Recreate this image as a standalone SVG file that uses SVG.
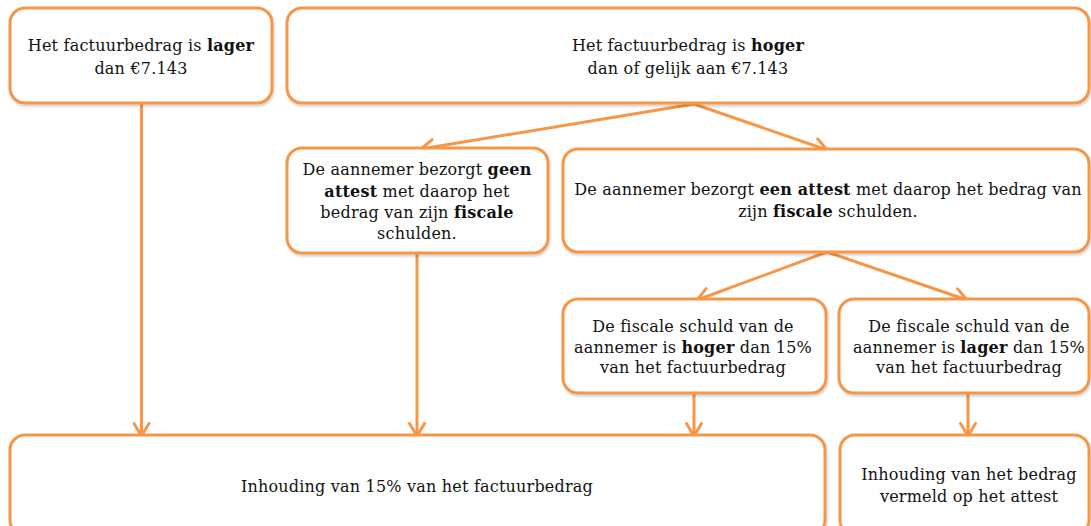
<svg xmlns="http://www.w3.org/2000/svg" width="1091" height="526" viewBox="0 0 1091 526">
<style>
.box{fill:#ffffff;stroke:#F79646;stroke-width:3;filter:url(#sh)}
.t{font-family:'DejaVu Serif','Liberation Serif',serif;font-size:16px;fill:#111;text-anchor:middle;letter-spacing:0.2px}
.b{font-weight:bold}
.c{fill:none;stroke:#F79646;stroke-width:3;marker-end:url(#ah)}
</style>
<defs>
<filter id="sh" x="-5%" y="-5%" width="110%" height="120%">
<feDropShadow dx="1" dy="2" stdDeviation="1.2" flood-color="#000" flood-opacity="0.18"/>
</filter>
<marker id="ah" viewBox="0 0 16 18" refX="14" refY="9" markerWidth="16" markerHeight="18" markerUnits="userSpaceOnUse" orient="auto">
<path d="M1.5,1.5 L14,9 L1.5,16.5" fill="none" stroke="#F79646" stroke-width="3" stroke-linecap="round" stroke-linejoin="round"/>
</marker>
</defs>
<rect width="1091" height="526" fill="#ffffff"/>
<g id="connectors">
<line class="c" x1="141.5" y1="104" x2="141.5" y2="436"/>
<line class="c" x1="417" y1="254" x2="417" y2="436"/>
<line class="c" x1="694" y1="394" x2="694" y2="436"/>
<line class="c" x1="968" y1="394" x2="968" y2="436"/>
<line class="c" x1="694" y1="104" x2="421" y2="149"/>
<line class="c" x1="694" y1="104" x2="827" y2="150"/>
<line class="c" x1="827" y1="252" x2="697" y2="300"/>
<line class="c" x1="827" y1="252" x2="967" y2="300"/>
</g>
<g id="n1">
<rect class="box" x="10" y="8" width="262" height="95" rx="15"/>
<text class="t" x="141" y="51">Het factuurbedrag is <tspan class="b">lager</tspan></text>
<text class="t" x="141" y="74">dan €7.143</text>
</g>
<g id="n2">
<rect class="box" x="287" y="8" width="802" height="95" rx="15"/>
<text class="t" x="688" y="51">Het factuurbedrag is <tspan class="b">hoger</tspan></text>
<text class="t" x="688" y="74">dan of gelijk aan €7.143</text>
</g>
<g id="n3">
<rect class="box" x="287" y="148" width="261" height="105" rx="15"/>
<text class="t" x="417" y="175">De aannemer bezorgt <tspan class="b">geen</tspan></text>
<text class="t" x="417" y="197"><tspan class="b">attest</tspan> met daarop het</text>
<text class="t" x="417" y="218">bedrag van zijn <tspan class="b">fiscale</tspan></text>
<text class="t" x="417" y="239">schulden.</text>
</g>
<g id="n4">
<rect class="box" x="563" y="149" width="526" height="103" rx="15"/>
<text class="t" x="828" y="195">De aannemer bezorgt <tspan class="b">een attest</tspan> met daarop het bedrag van</text>
<text class="t" x="828" y="217">zijn <tspan class="b">fiscale</tspan> schulden.</text>
</g>
<g id="n5">
<rect class="box" x="563" y="299" width="263" height="94" rx="15"/>
<text class="t" x="693" y="332">De fiscale schuld van de</text>
<text class="t" x="693" y="353">aannemer is <tspan class="b">hoger</tspan> dan 15%</text>
<text class="t" x="693" y="373">van het factuurbedrag</text>
</g>
<g id="n6">
<rect class="box" x="839" y="299" width="250" height="94" rx="15"/>
<text class="t" x="969" y="332">De fiscale schuld van de</text>
<text class="t" x="969" y="353">aannemer is <tspan class="b">lager</tspan> dan 15%</text>
<text class="t" x="969" y="373">van het factuurbedrag</text>
</g>
<g id="n7">
<rect class="box" x="10" y="435" width="815" height="100" rx="15"/>
<text class="t" x="417" y="492">Inhouding van 15% van het factuurbedrag</text>
</g>
<g id="n8">
<rect class="box" x="840" y="435" width="249" height="100" rx="15"/>
<text class="t" x="969" y="480">Inhouding van het bedrag</text>
<text class="t" x="969" y="502">vermeld op het attest</text>
</g>
</svg>
